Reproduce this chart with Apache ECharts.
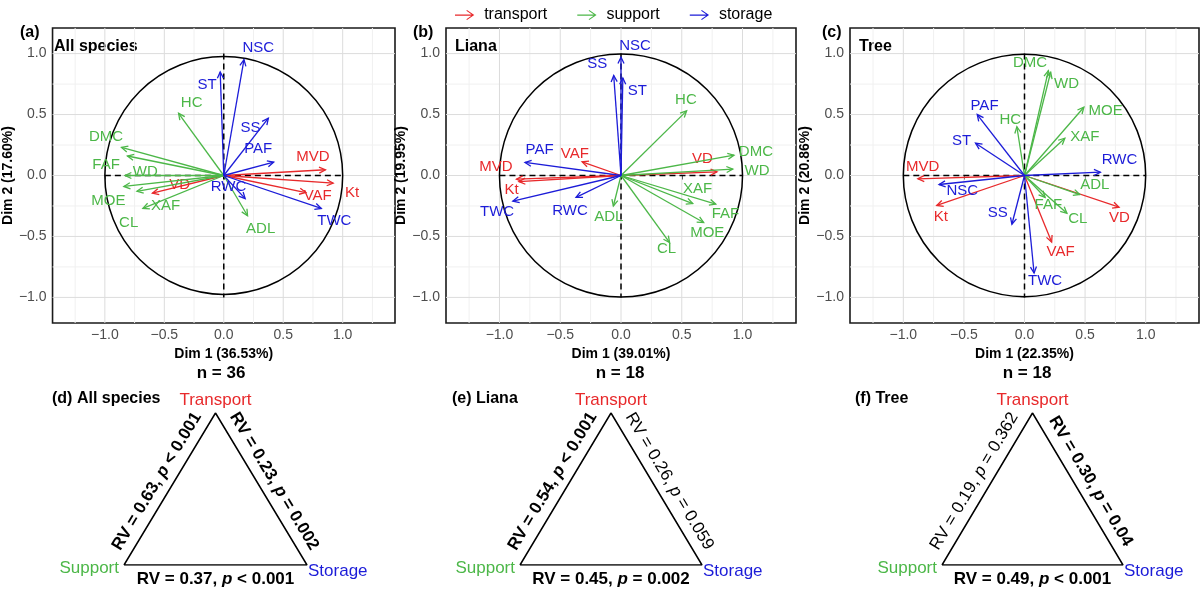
<!DOCTYPE html>
<html>
<head>
<meta charset="utf-8">
<script src="https://cdn.jsdelivr.net/npm/echarts@6/dist/echarts.min.js"></script>
<style>
  html, body { margin: 0; padding: 0; background: #fff; }
  #chart { width: 1200px; height: 593px; }
</style>
</head>
<body>
<div id="chart"></div>
<script>
const FONT = '"Liberation Sans", Arial, sans-serif';

const groups = ['transport', 'support', 'storage'];
const groupColors = ['#e8292b', '#4cb748', '#1c1cd8'];

const traits = ['MVD', 'Kt', 'VAF', 'VD', 'DMC', 'WD', 'MOE', 'XAF', 'FAF', 'CL', 'HC', 'ADL', 'NSC', 'ST', 'SS', 'PAF', 'RWC', 'TWC'];
const traitGroup = [0, 0, 0, 0, 1, 1, 1, 1, 1, 1, 1, 1, 2, 2, 2, 2, 2, 2];

// (a) all species: arrow tips and label centres (Dim 1, Dim 2)
const allDim1 = [0.855, 0.92, 0.69, -0.60, -0.86, -0.83, -0.84, -0.73, -0.81, -0.68, -0.38, 0.20, 0.17, -0.03, 0.375, 0.42, 0.18, 0.82];
const allDim2 = [0.047, -0.063, -0.14, -0.145, 0.23, 0.0, -0.09, -0.13, 0.16, -0.27, 0.51, -0.33, 0.95, 0.85, 0.47, 0.11, -0.19, -0.27];
const allLabelX = [0.75, 1.08, 0.79, -0.37, -0.99, -0.66, -0.97, -0.49, -0.99, -0.80, -0.27, 0.31, 0.29, -0.14, 0.225, 0.29, 0.04, 0.93];
const allLabelY = [0.15, -0.14, -0.165, -0.077, 0.32, 0.03, -0.205, -0.25, 0.09, -0.386, 0.60, -0.44, 1.05, 0.74, 0.39, 0.22, -0.09, -0.37];

// (b) liana
const lianaDim1 = [-0.86, -0.84, -0.32, 0.79, 0.93, 0.92, 0.68, 0.59, 0.78, 0.40, 0.54, -0.063, 0.0, 0.015, -0.06, -0.79, -0.37, -0.89];
const lianaDim2 = [-0.03, -0.05, 0.112, 0.03, 0.167, 0.052, -0.386, -0.23, -0.235, -0.55, 0.53, -0.25, 0.97, 0.80, 0.82, 0.107, -0.18, -0.21];
const lianaLabelX = [-1.03, -0.90, -0.38, 0.67, 1.11, 1.12, 0.71, 0.63, 0.86, 0.375, 0.534, -0.10, 0.115, 0.134, -0.195, -0.67, -0.42, -1.02];
const lianaLabelY = [0.074, -0.12, 0.18, 0.14, 0.19, 0.035, -0.474, -0.107, -0.318, -0.605, 0.62, -0.34, 1.06, 0.696, 0.915, 0.21, -0.29, -0.30];

// (c) tree
const treeDim1 = [-0.88, -0.724, 0.224, 0.78, 0.197, 0.216, 0.49, 0.333, 0.17, 0.35, -0.063, 0.456, -0.705, -0.404, -0.104, -0.39, 0.626, 0.079];
const treeDim2 = [-0.027, -0.246, -0.546, -0.26, 0.86, 0.847, 0.56, 0.306, -0.18, -0.31, 0.40, -0.156, -0.074, 0.265, -0.40, 0.50, 0.027, -0.80];
const treeLabelX = [-0.84, -0.69, 0.298, 0.784, 0.046, 0.347, 0.67, 0.497, 0.197, 0.44, -0.117, 0.58, -0.514, -0.52, -0.22, -0.33, 0.784, 0.17];
const treeLabelY = [0.068, -0.336, -0.628, -0.347, 0.92, 0.75, 0.527, 0.314, -0.24, -0.355, 0.456, -0.074, -0.128, 0.287, -0.31, 0.574, 0.13, -0.866];

const panelTags = ['(a)', '(b)', '(c)'];
const panelTitles = ['All species', 'Liana', 'Tree'];
const dim1Pct = ['36.53', '39.01', '22.35'];
const dim2Pct = ['17.60', '19.95', '20.86'];
const sampleN = [36, 18, 18];

const majorBreaks = [-1, -0.5, 0, 0.5, 1];
const minorBreaks = [-1.25, -0.75, -0.25, 0.25, 0.75, 1.25];

// RV coefficients between trait groups
const triTags = ['(d) All species', '(e) Liana', '(f) Tree'];
const rvTransSupport = [0.63, 0.54, 0.19];
const pTransSupport = [0.001, 0.001, 0.362];
const opTransSupport = ['<', '<', '='];
const rvTransStorage = [0.23, 0.26, 0.30];
const pTransStorage = [0.002, 0.059, 0.04];
const opTransStorage = ['=', '=', '='];
const rvSupportStorage = [0.37, 0.45, 0.49];
const pSupportStorage = [0.001, 0.002, 0.001];
const opSupportStorage = ['<', '=', '<'];

const panels = [
  [allDim1, allDim2, allLabelX, allLabelY],
  [lianaDim1, lianaDim2, lianaLabelX, lianaLabelY],
  [treeDim1, treeDim2, treeLabelX, treeLabelY]
];

// layout
const panelLeft = [45, 446, 850];
const panelWidth = [350, 350, 349];
const panelTop = 28;
const panelHeight = 295;
const tagLeft = [20, 413, 822];
const nCenter = [221, 620, 1027];
const triLeft = [124, 520, 942];
const triWidth = [183, 182, 181];
const triTop = 413;
const triHeight = 152;
const triTagLeft = [52, 452, 855];

const chart = echarts.init(document.getElementById('chart'));

function fmtTick(v) {
  return (v < 0 ? '\u2212' : '') + Math.abs(v).toFixed(1);
}

function gridLinesItem(params, api) {
  const cs = params.coordSys;
  const children = [];
  const add = (vals, color) => {
    vals.forEach(v => {
      const px = api.coord([v, 0])[0];
      if (px >= cs.x && px <= cs.x + cs.width) {
        children.push({ type: 'line', shape: { x1: px, y1: cs.y, x2: px, y2: cs.y + cs.height }, style: { stroke: color, lineWidth: 1 } });
      }
      const py = api.coord([0, v])[1];
      if (py >= cs.y && py <= cs.y + cs.height) {
        children.push({ type: 'line', shape: { x1: cs.x, y1: py, x2: cs.x + cs.width, y2: py }, style: { stroke: color, lineWidth: 1 } });
      }
    });
  };
  add(minorBreaks, '#f0f0f0');
  add(majorBreaks, '#dcdcdc');
  return { type: 'group', children };
}

function frameItem(params, api) {
  const o = api.coord([0, 0]);
  const r = api.size([1, 1])[0];
  const l = api.coord([-1, 0]), rr = api.coord([1, 0]);
  const t = api.coord([0, 1]), b = api.coord([0, -1]);
  return {
    type: 'group',
    children: [
      { type: 'circle', shape: { cx: o[0], cy: o[1], r }, style: { stroke: '#000', fill: null, lineWidth: 1.5 } },
      { type: 'line', shape: { x1: l[0], y1: l[1], x2: rr[0], y2: rr[1] }, style: { stroke: '#000', lineWidth: 1.5, lineDash: [6, 4] } },
      { type: 'line', shape: { x1: t[0], y1: t[1], x2: b[0], y2: b[1] }, style: { stroke: '#000', lineWidth: 1.5, lineDash: [6, 4] } }
    ]
  };
}

function arrowItem(names, color) {
  return function (params, api) {
    const o = api.coord([0, 0]);
    const p = api.coord([api.value(0), api.value(1)]);
    const t = api.coord([api.value(2), api.value(3)]);
    const a = Math.atan2(p[1] - o[1], p[0] - o[0]);
    const L = 7, s = Math.PI / 7;
    const h1 = [p[0] - L * Math.cos(a - s), p[1] - L * Math.sin(a - s)];
    const h2 = [p[0] - L * Math.cos(a + s), p[1] - L * Math.sin(a + s)];
    return {
      type: 'group',
      children: [
        { type: 'line', shape: { x1: o[0], y1: o[1], x2: p[0], y2: p[1] }, style: { stroke: color, lineWidth: 1.3 } },
        { type: 'polyline', shape: { points: [h1, p, h2] }, style: { stroke: color, fill: null, lineWidth: 1.3 } },
        {
          type: 'text', x: t[0], y: t[1],
          style: { text: names[params.dataIndex], fill: color, fontSize: 15, fontFamily: FONT, align: 'center', verticalAlign: 'middle' }
        }
      ]
    };
  };
}

const grids = [];
const xAxes = [];
const yAxes = [];
const series = [];
const graphics = [];

for (let i = 0; i < 3; i++) {
  grids.push({
    left: panelLeft[i], top: panelTop, width: panelWidth[i], height: panelHeight,
    show: true, borderColor: '#1a1a1a', borderWidth: 1.6, backgroundColor: '#fff'
  });
  xAxes.push({
    gridIndex: i, type: 'value', min: -1.44, max: 1.44,
    axisLine: { show: false },
    axisTick: { show: true, customValues: majorBreaks, length: 4, lineStyle: { color: '#333' } },
    axisLabel: { customValues: majorBreaks, formatter: fmtTick, color: '#4d4d4d', fontSize: 14, fontFamily: FONT, margin: 5 },
    splitLine: { show: false },
    name: 'Dim 1 (' + dim1Pct[i] + '%)', nameLocation: 'middle', nameGap: 24,
    nameTextStyle: { fontWeight: 'bold', fontSize: 14, color: '#000', fontFamily: FONT }
  });
  yAxes.push({
    gridIndex: i, type: 'value', min: -1.21, max: 1.21,
    axisLine: { show: false },
    axisTick: { show: true, customValues: majorBreaks, length: 4, lineStyle: { color: '#333' } },
    axisLabel: { customValues: majorBreaks, formatter: fmtTick, color: '#4d4d4d', fontSize: 14, fontFamily: FONT, margin: 6 },
    splitLine: { show: false },
    name: 'Dim 2 (' + dim2Pct[i] + '%)', nameLocation: 'middle', nameGap: 33, nameRotate: 90,
    nameTextStyle: { fontWeight: 'bold', fontSize: 14, color: '#000', fontFamily: FONT }
  });

  series.push({
    type: 'custom', xAxisIndex: i, yAxisIndex: i, silent: true, z: 1,
    renderItem: gridLinesItem, data: [[0, 0]]
  });
  series.push({
    type: 'custom', xAxisIndex: i, yAxisIndex: i, silent: true, z: 2,
    renderItem: frameItem, data: [[0, 0]]
  });

  const [d1, d2, lx, ly] = panels[i];
  for (let g = 0; g < 3; g++) {
    const names = [];
    const data = [];
    traits.forEach((tr, k) => {
      if (traitGroup[k] === g) {
        names.push(tr);
        data.push([d1[k], d2[k], lx[k], ly[k]]);
      }
    });
    series.push({
      type: 'custom', name: groups[g], xAxisIndex: i, yAxisIndex: i, z: 3,
      itemStyle: { color: groupColors[g] },
      renderItem: arrowItem(names, groupColors[g]),
      data
    });
  }

  graphics.push(
    { type: 'text', left: tagLeft[i], top: 25, style: { text: panelTags[i], fontWeight: 'bold', fontSize: 16, fontFamily: FONT, fill: '#000' } },
    { type: 'text', left: panelLeft[i] + 9, top: 39, style: { text: panelTitles[i], fontWeight: 'bold', fontSize: 16, fontFamily: FONT, fill: '#000' } },
    { type: 'text', x: nCenter[i], y: 373, style: { text: 'n = ' + sampleN[i], fontWeight: 'bold', fontSize: 17, fontFamily: FONT, fill: '#000', align: 'center', verticalAlign: 'middle' } }
  );
}

function rvText(rv, p, op) {
  const st = p < 0.05 ? 'b' : 'n';
  return '{' + st + '|RV = ' + rv.toFixed(2) + ', }{' + st + 'i|p}{' + st + '| ' + op + ' ' + p + '}';
}
const rich = {
  b: { fontWeight: 'bold', fontSize: 17, fontFamily: FONT, color: '#000' },
  bi: { fontWeight: 'bold', fontStyle: 'italic', fontSize: 17, fontFamily: FONT, color: '#000' },
  n: { fontWeight: 'normal', fontSize: 17, fontFamily: FONT, color: '#000' },
  ni: { fontWeight: 'normal', fontStyle: 'italic', fontSize: 17, fontFamily: FONT, color: '#000' }
};

for (let i = 0; i < 3; i++) {
  const gi = 3 + i;
  grids.push({ left: triLeft[i], top: triTop, width: triWidth[i], height: triHeight, show: false });
  xAxes.push({ gridIndex: gi, type: 'value', min: 0, max: 1, show: false });
  yAxes.push({ gridIndex: gi, type: 'value', min: 0, max: 1, show: false });
  series.push({
    type: 'line', xAxisIndex: gi, yAxisIndex: gi, silent: true, symbol: 'none',
    lineStyle: { color: '#000', width: 1.5 },
    data: [[0, 0], [1, 0], [0.5, 1], [0, 0]]
  });

  const L = triLeft[i], W = triWidth[i], T = triTop, H = triHeight;
  const ang = Math.atan2(H, W / 2);
  const off = 15;
  const nx = Math.sin(ang), ny = Math.cos(ang);
  const midL = [L + W / 4, T + H / 2];
  const midR = [L + 3 * W / 4, T + H / 2];

  graphics.push(
    { type: 'text', left: triTagLeft[i], top: 391, style: { text: triTags[i], fontWeight: 'bold', fontSize: 16, fontFamily: FONT, fill: '#000' } },
    { type: 'text', x: L + W / 2, y: T - 13, style: { text: 'Transport', fontSize: 17, fontFamily: FONT, fill: groupColors[0], align: 'center', verticalAlign: 'middle' } },
    { type: 'text', x: L - 5, y: T + H + 3, style: { text: 'Support', fontSize: 17, fontFamily: FONT, fill: groupColors[1], align: 'right', verticalAlign: 'middle' } },
    { type: 'text', x: L + W + 1, y: T + H + 6, style: { text: 'Storage', fontSize: 17, fontFamily: FONT, fill: groupColors[2], align: 'left', verticalAlign: 'middle' } },
    {
      type: 'text', x: midL[0] - nx * off, y: midL[1] - ny * off, rotation: ang,
      style: { text: rvText(rvTransSupport[i], pTransSupport[i], opTransSupport[i]), rich, align: 'center', verticalAlign: 'middle' }
    },
    {
      type: 'text', x: midR[0] + nx * off, y: midR[1] - ny * off, rotation: -ang,
      style: { text: rvText(rvTransStorage[i], pTransStorage[i], opTransStorage[i]), rich, align: 'center', verticalAlign: 'middle' }
    },
    {
      type: 'text', x: L + W / 2, y: T + H + 14,
      style: { text: rvText(rvSupportStorage[i], pSupportStorage[i], opSupportStorage[i]), rich, align: 'center', verticalAlign: 'middle' }
    }
  );
}

const arrowIcon = 'path://M0,5.4L17,5.4L17,6.6L0,6.6Z M11.5,1.2L18.5,6L11.5,10.8L10.9,10L16.7,6L10.9,2Z';

chart.setOption({
  animation: false,
  backgroundColor: '#fff',
  legend: {
    data: groups.map(g => ({ name: g, icon: arrowIcon })),
    left: 450, top: 2,
    itemWidth: 21, itemHeight: 10, itemGap: 30,
    selectedMode: false,
    textStyle: { fontSize: 16, fontFamily: FONT, color: '#000', padding: [0, 0, 0, 4] }
  },
  grid: grids,
  xAxis: xAxes,
  yAxis: yAxes,
  series,
  graphic: graphics
});
</script>
</body>
</html>
